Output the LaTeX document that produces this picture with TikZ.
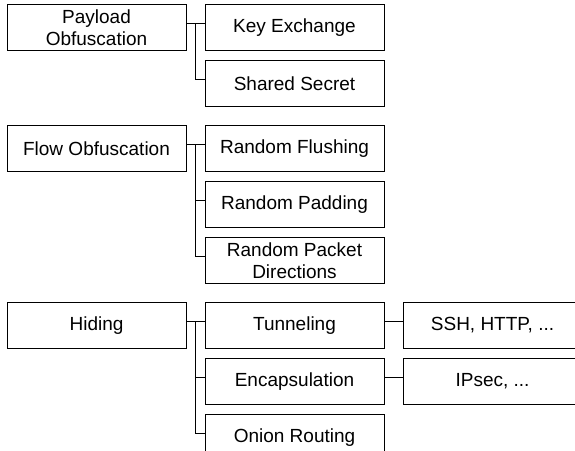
\documentclass[tikz,border=0pt]{standalone}
\usepackage{fontspec}
\setmainfont{Liberation Sans}
\usetikzlibrary{positioning}
\begin{document}
\begin{tikzpicture}[x=1pt,y=1pt,
  box/.style={draw,line width=1pt,minimum width=179pt,minimum height=46pt,
    inner sep=0pt,align=center,font=\fontsize{19}{22}\selectfont},
  link/.style={line width=1pt},
  node distance=9pt and 18pt]
\useasboundingbox (0,0) rectangle (575,-450);
\node[box] (payload) at (96.5,-27.5) {Payload\\Obfuscation};
\node[box,right=of payload] (keyex) {Key Exchange};
\node[box,below=of keyex] (secret) {Shared Secret};
\node[box,below=18pt of secret] (flushing) {Random Flushing};
\node[box,left=of flushing] (flow) {Flow Obfuscation};
\node[box,below=of flushing] (padding) {Random Padding};
\node[box,below=of padding] (packetdir) {Random Packet\\Directions};
\node[box,below=18pt of packetdir] (tunnel) {Tunneling};
\node[box,left=of tunnel] (hiding) {Hiding};
\node[box,right=of tunnel] (ssh) {SSH, HTTP, ...};
\node[box,below=of tunnel] (encap) {Encapsulation};
\node[box,right=of encap] (ipsec) {IPsec, ...};
\node[box,below=of encap] (onion) {Onion Routing};
\foreach \p/\c in {payload/keyex,flow/flushing,hiding/tunnel,tunnel/ssh,encap/ipsec}
  \draw[link] ([yshift=4pt]\p.east) -- ([yshift=4pt]\c.west);
\foreach \p/\c in {payload/secret,flow/padding,flow/packetdir,hiding/encap,hiding/onion}
  \draw[link] ([xshift=9pt,yshift=4pt]\p.east) |- ([yshift=4pt]\c.west);
\end{tikzpicture}
\end{document}
